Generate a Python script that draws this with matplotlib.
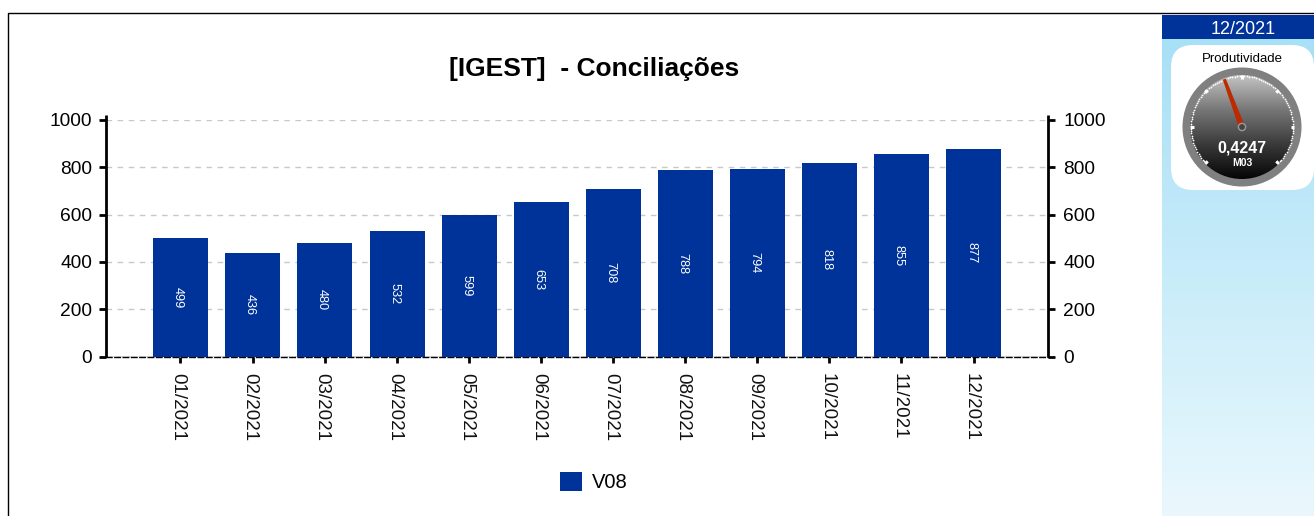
import numpy as np
import matplotlib
matplotlib.use('Agg')
import matplotlib.pyplot as plt
from matplotlib.patches import Rectangle, FancyBboxPatch, Circle, Polygon

months = ['01/2021', '02/2021', '03/2021', '04/2021', '05/2021', '06/2021',
          '07/2021', '08/2021', '09/2021', '10/2021', '11/2021', '12/2021']
values = [499, 436, 480, 532, 599, 653, 708, 788, 794, 818, 855, 877]
yticks = [0, 200, 400, 600, 800, 1000]
series_name = 'V08'
chart_title = '[IGEST]  - Conciliações'
gauge_month = '12/2021'
gauge_title = 'Produtividade'
gauge_value = 0.4247
gauge_label = '0,4247'
gauge_unit = 'M03'

W, H = 1314, 516
BLUE = '#003399'
plt.rcParams['font.family'] = ['Liberation Sans', 'DejaVu Sans']

fig = plt.figure(figsize=(W / 100, H / 100), dpi=100, facecolor='white')

# overlay in pixel coordinates for frame, sidebar and gauge
bg = fig.add_axes([0, 0, 1, 1], zorder=0)
bg.set_xlim(0, W)
bg.set_ylim(H, 0)
bg.axis('off')
bg.plot([8, 8, W], [H, 13, 13], color='black', lw=1.0, solid_capstyle='butt')

grad = np.linspace(0, 1, 256).reshape(-1, 1)
cmap_side = matplotlib.colors.LinearSegmentedColormap.from_list('side', ['#a8e0f6', '#eaf8fd'])
bg.imshow(grad, extent=[1162, W, H, 39], cmap=cmap_side, aspect='auto', zorder=1)
bg.add_patch(Rectangle((1162, 15), W - 1162, 24, color=BLUE, lw=0, zorder=2))
bg.text(1243, 30, gauge_month, color='white', fontsize=13, ha='center', va='center', zorder=3)
bg.add_patch(FancyBboxPatch((1171 + 22, 45 + 22), 143 - 44, 145 - 44,
                            boxstyle='round,pad=22,rounding_size=22',
                            fc='white', ec='none', zorder=2))
bg.set_xlim(0, W)
bg.set_ylim(H, 0)
bg.text(1242, 59, gauge_title, fontsize=9.5, ha='center', va='center', zorder=3)

cx, cy = 1242, 127
bg.add_patch(Circle((cx, cy), 59.5, fc='#808080', ec='none', zorder=3))
cmap_face = matplotlib.colors.LinearSegmentedColormap.from_list(
    'face', ['#c4c4c4', '#777777', '#3a3a3a', '#050505'])
face = bg.imshow(grad, extent=[cx - 52, cx + 52, cy + 52, cy - 52], cmap=cmap_face,
                 aspect='auto', zorder=4)
face.set_clip_path(Circle((cx, cy), 52, transform=bg.transData))
bg.set_xlim(0, W)
bg.set_ylim(H, 0)

# scale: 0 to 1 over 270 degrees, bottom open
ang_minor = np.radians(np.linspace(-135, 135, 101))
bg.scatter(cx + 51 * np.sin(ang_minor), cy - 51 * np.cos(ang_minor), s=1.6, c='white',
           lw=0, zorder=5)
ang_major = np.radians(np.linspace(-135, 135, 7))
for a in ang_major:
    bg.plot([cx + 48.5 * np.sin(a), cx + 52 * np.sin(a)],
            [cy - 48.5 * np.cos(a), cy - 52 * np.cos(a)], color='white', lw=2.2,
            solid_capstyle='butt', zorder=5)

a = np.radians(-135 + 270 * gauge_value)
ux, uy = np.sin(a), -np.cos(a)
nx, ny = -uy, ux
bg.add_patch(Polygon([[cx + 3 * nx, cy + 3 * ny], [cx - 3 * nx, cy - 3 * ny],
                      [cx + 51 * ux - 1.6 * nx, cy + 51 * uy - 1.6 * ny],
                      [cx + 51 * ux + 1.6 * nx, cy + 51 * uy + 1.6 * ny]],
                     fc='#bb2a00', ec='none', zorder=6))
bg.add_patch(Circle((cx, cy), 3.6, fc='#444444', ec='#9a9a9a', lw=1, zorder=7))
bg.text(cx, 148, gauge_label, color='white', fontsize=11.5, fontweight='bold',
        ha='center', va='center', zorder=7)
bg.text(cx, 163, gauge_unit, color='white', fontsize=7.5, fontweight='bold',
        ha='center', va='center', zorder=7)

# main chart
left, right, top, bottom = 106, 1048, 120, 356.5
ax = fig.add_axes([left / W, 1 - bottom / H, (right - left) / W, (bottom - top) / H], zorder=2)
ax.patch.set_alpha(0)
x = np.arange(len(months))
ax.bar(x + 0.004, values, width=0.763, color=BLUE, zorder=3, label=series_name)
for i, v in zip(x, values):
    ax.annotate(str(v), (i, v / 2), xytext=(-1.8, 0), textcoords='offset points', color='white',
                fontsize=9.2, rotation=-90, ha='center', va='center', zorder=4)

ax.set_xlim(-1.033, 12.033)
ax.set_ylim(0, 1000)
ax.set_yticks(yticks)
ax.set_xticks(x)
ax.set_xticklabels([])
# month labels placed by hand, the rotated tick labels sit about 2 px too far right
for i, m in zip(x, months):
    ax.annotate(m, (i, 0), xycoords=('data', 'axes fraction'), xytext=(-1.8, -11.9),
                textcoords='offset points', rotation=-90, fontsize=13.5, color='#111111',
                ha='center', va='top', annotation_clip=False)
ax.tick_params(axis='x', length=4.5, width=2)
ax.tick_params(axis='y', length=5, width=2, labelsize=13.8, pad=5, left=True, right=False)
ax.grid(axis='y', color='#c8c8c8', linestyle=(0, (4, 4)), lw=1, zorder=1)
ax.grid(axis='x', visible=False)
ax.axhline(0, color='#777777', lw=1, zorder=2)
for s in ['top', 'right', 'left']:
    ax.spines[s].set_visible(False)
ax.spines['bottom'].set_linewidth(1)
ax.spines['bottom'].set_linestyle((0, (4, 2)))

ax2 = ax.twinx()
ax2.set_ylim(0, 1000)
ax2.set_yticks(yticks)
ax2.tick_params(axis='y', length=5, width=2, labelsize=13.8, pad=6)
for s in ['top', 'left', 'bottom', 'right']:
    ax2.spines[s].set_visible(False)

# vertical axis lines run a little past 1000
for xpos in [0, 1]:
    ax.plot([xpos, xpos], [0, 1.021], transform=ax.transAxes, clip_on=False,
            color='black', lw=2, solid_capstyle='butt', zorder=5)

fig.text(594 / W, 1 - 69 / H, chart_title, fontsize=19, fontweight='bold', ha='center', va='center')
leg = ax.legend(loc='center', bbox_to_anchor=(594 / W, 1 - 482 / H), bbox_transform=fig.transFigure,
                frameon=False, fontsize=14.5, handlelength=1.1, handleheight=1.05, handletextpad=0.5)

fig.savefig('out.png', dpi=100)
